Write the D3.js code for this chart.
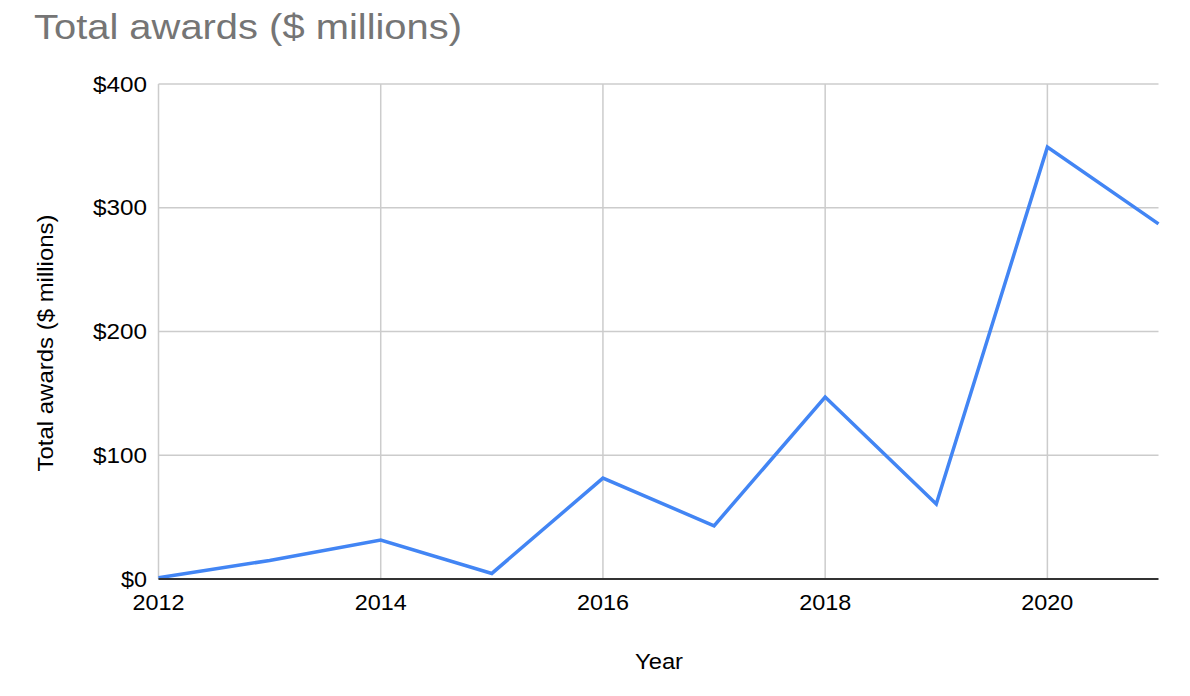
<!DOCTYPE html>
<html><head><meta charset="utf-8">
<script src="https://cdn.jsdelivr.net/npm/d3@7"></script>
<style>body{margin:0;background:#fff}text{font-family:"Liberation Sans",Arial,sans-serif}</style>
</head><body><svg id="c" width="1190" height="696"></svg>
<script>
const years = [2012,2013,2014,2015,2016,2017,2018,2019,2020,2021];
const awards = [1,15,31.5,4.5,81.5,43,147,60.5,349,287];
const yTicks = [0,100,200,300,400];
const xTicks = [2012,2014,2016,2018,2020];
const title = "Total awards ($ millions)";

const svg = d3.select("#c");
const L=158.5, R=1158.5, T=84, B=579;
const x = d3.scaleLinear().domain([2012,2021]).range([L,R]);
const y = d3.scaleLinear().domain([0,400]).range([B,T]);

svg.append("text").attr("x",34).attr("y",38.5).attr("font-size",35).attr("fill","#757575")
  .attr("textLength",428).attr("lengthAdjust","spacingAndGlyphs").text(title);

// horizontal grid
svg.append("g").selectAll("line").data(yTicks.filter(d=>d>0)).join("line")
  .attr("x1",L).attr("x2",R).attr("y1",d=>y(d)).attr("y2",d=>y(d))
  .attr("stroke","#cccccc").attr("stroke-width",1.5);
// vertical grid
svg.append("g").selectAll("line").data(xTicks).join("line")
  .attr("x1",d=>x(d)).attr("x2",d=>x(d)).attr("y1",T).attr("y2",B)
  .attr("stroke","#cccccc").attr("stroke-width",1.5);

// y tick labels
svg.append("g").selectAll("text").data(yTicks).join("text")
  .attr("x",147).attr("y",d=>y(d)+7.5).attr("text-anchor","end")
  .attr("font-size",22).attr("fill","#000")
  .attr("textLength",d=>d===0?26:54).attr("lengthAdjust","spacingAndGlyphs").text(d=>"$"+d);
// x tick labels
svg.append("g").selectAll("text").data(xTicks).join("text")
  .attr("x",d=>x(d)).attr("y",610).attr("text-anchor","middle")
  .attr("font-size",22).attr("fill","#000")
  .attr("textLength",52).attr("lengthAdjust","spacingAndGlyphs").text(d=>d);

// line
const line = d3.line().x((d,i)=>x(years[i])).y(d=>y(d));
svg.append("path").datum(awards).attr("d",line).attr("fill","none")
  .attr("stroke","#4285f4").attr("stroke-width",3.5).attr("stroke-linejoin","miter");

// baseline
svg.append("line").attr("x1",L).attr("x2",R).attr("y1",B).attr("y2",B)
  .attr("stroke","#333").attr("stroke-width",2);

// axis titles
svg.append("text").attr("x",659).attr("y",669).attr("text-anchor","middle")
  .attr("font-size",22).attr("fill","#000")
  .attr("textLength",48).attr("lengthAdjust","spacingAndGlyphs").text("Year");
svg.append("text").attr("transform","translate(53,343) rotate(-90)").attr("text-anchor","middle")
  .attr("font-size",22).attr("fill","#000")
  .attr("textLength",257).attr("lengthAdjust","spacingAndGlyphs").text("Total awards ($ millions)");
</script></body></html>
